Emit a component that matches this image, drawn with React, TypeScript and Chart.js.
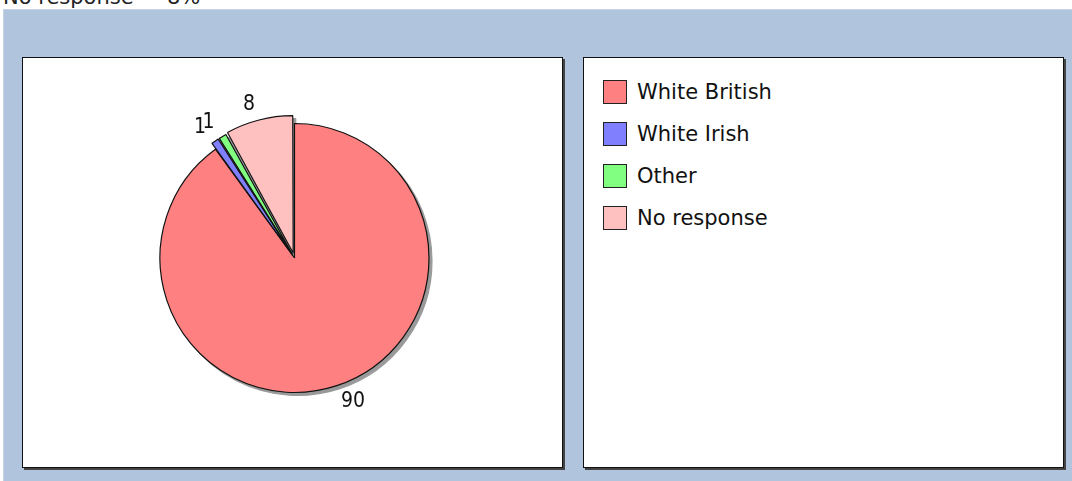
import React, { useEffect, useRef } from "react";
import { Chart, registerables } from "chart.js";

Chart.register(...registerables);

const categories = ["White British", "White Irish", "Other", "No response"];
const values = [90, 1, 1, 8];
const sliceColors = ["#ff8080", "#8080ff", "#80ff80", "#ffc0c0"];
const headerLabel = "No response";
const headerValue = "8%";

const FONT = '"DejaVu Sans", Verdana, sans-serif';

export default function App() {
  const ref = useRef<HTMLCanvasElement>(null);

  useEffect(() => {
    const canvas = ref.current;
    if (!canvas) return;

    const shadowPlugin = {
      id: "pieShadow",
      beforeDatasetsDraw(chart: any) {
        const ctx = chart.ctx;
        const meta = chart.getDatasetMeta(0);
        ctx.save();
        ctx.translate(3, 3);
        ctx.filter = "brightness(0) invert(0.6)";
        meta.data.forEach((a: any) => a.draw(ctx));
        ctx.restore();
      },
    };

    const labelPlugin = {
      id: "pieLabels",
      afterDatasetsDraw(chart: any) {
        const ctx = chart.ctx;
        const meta = chart.getDatasetMeta(0);
        const data = chart.data.datasets[0].data;
        ctx.save();
        ctx.font = '21px "DejaVu Sans Condensed", "DejaVu Sans", sans-serif';
        ctx.fillStyle = "#111";
        ctx.textBaseline = "middle";
        meta.data.forEach((arc: any, i: number) => {
          const p = arc.getProps(
            ["x", "y", "startAngle", "endAngle", "outerRadius", "circumference"],
            true
          );
          const mid = (p.startAngle + p.endAngle) / 2;
          const off = (arc.options.offset || 0) / 4;
          const fix = 1 - Math.sin(Math.min(Math.PI, p.circumference || 0));
          const t = off + off * fix;
          const r = p.outerRadius + t + 16;
          const x = p.x + Math.cos(mid) * r;
          const y = p.y + Math.sin(mid) * r;
          ctx.textAlign = Math.cos(mid) >= 0 ? "left" : "right";
          ctx.fillText(String(data[i]), x, y);
        });
        ctx.restore();
      },
    };

    const chart = new Chart(canvas, {
      type: "pie",
      data: {
        labels: categories,
        datasets: [
          {
            data: values,
            backgroundColor: sliceColors,
            borderColor: "#111",
            borderWidth: 1.2,
            offset: [0, 14, 14, 21],
            hoverOffset: 0,
          },
        ],
      },
      options: {
        responsive: false,
        animation: false,
        radius: 134.5,
        layout: { padding: { left: 24, right: 507, top: 58, bottom: 23 } },
        plugins: {
          legend: { display: false },
          tooltip: { enabled: false },
        },
        events: [],
      } as any,
      plugins: [shadowPlugin, labelPlugin],
    });

    return () => chart.destroy();
  }, []);

  const box: React.CSSProperties = {
    position: "absolute",
    background: "#fff",
    border: "1px solid #111",
    boxShadow: "2px 2px 0 #444",
    boxSizing: "border-box",
  };

  return (
    <div
      style={{
        position: "absolute",
        left: 0,
        top: 0,
        width: 1072,
        height: 481,
        overflow: "hidden",
        background: "#fff",
        fontFamily: FONT,
      }}
    >
      <span
        style={{
          position: "absolute",
          left: 3,
          top: -13,
          fontSize: 21,
          lineHeight: "21px",
          color: "#222",
          whiteSpace: "nowrap",
        }}
      >
        {headerLabel}
      </span>
      <span
        style={{
          position: "absolute",
          left: 167,
          top: -13,
          fontSize: 21,
          lineHeight: "21px",
          color: "#222",
          whiteSpace: "nowrap",
        }}
      >
        {headerValue}
      </span>
      <div
        style={{
          position: "absolute",
          left: 3,
          top: 9,
          width: 1069,
          height: 472,
          background: "#b0c4de",
          borderTop: "1px solid #c6d4e7",
          borderLeft: "1px solid #c6d4e7",
          boxSizing: "border-box",
        }}
      />
      <div style={{ ...box, left: 22, top: 57, width: 541, height: 411 }} />
      <div style={{ ...box, left: 583, top: 57, width: 481, height: 411 }}>
        {categories.map((c, i) => (
          <div
            key={c}
            style={{
              position: "absolute",
              left: 19,
              top: 22 + i * 42,
              height: 24,
              display: "flex",
              alignItems: "center",
              whiteSpace: "nowrap",
            }}
          >
            <div
              style={{
                width: 24,
                height: 24,
                boxSizing: "border-box",
                border: "1.5px solid #222",
                background: sliceColors[i],
                marginRight: 10,
              }}
            />
            <span style={{ fontSize: 21, lineHeight: "24px", color: "#111" }}>{c}</span>
          </div>
        ))}
      </div>
      <canvas
        ref={ref}
        width={1072}
        height={481}
        style={{
          position: "absolute",
          left: 0,
          top: 0,
          width: 1072,
          height: 481,
          pointerEvents: "none",
        }}
      />
    </div>
  );
}
